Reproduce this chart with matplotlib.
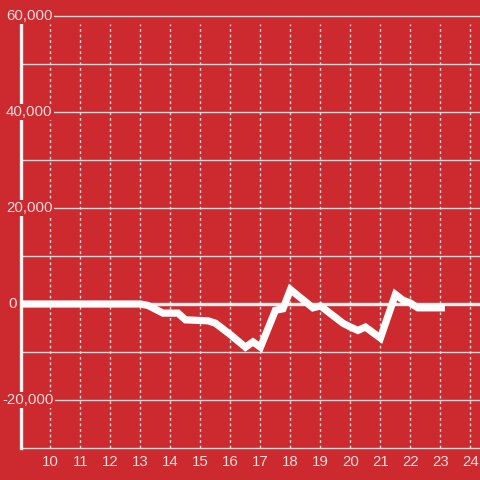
import numpy as np
import matplotlib
matplotlib.use('Agg')
import matplotlib.pyplot as plt
from matplotlib import rcParams

rcParams['font.family'] = ['Liberation Sans', 'DejaVu Sans']

# hour of day vs running value
hours = [9, 13.0, 13.25, 13.75, 14.25, 14.5, 15.25, 15.5, 16.0, 16.5, 16.75,
         17.0, 17.5, 17.75, 18.0, 18.75, 19.0, 19.75, 20.0, 20.25, 20.5,
         21.0, 21.5, 21.75, 22.0, 22.25, 23.15]
values = [0, 0, -300, -1900, -1900, -3300, -3500, -4000, -6400, -9000, -7900,
          -9000, -1300, -1000, 3000, -800, -400, -4000, -4800, -5500, -4800,
          -7100, 2000, 800, 200, -800, -800]

xticks = list(range(10, 25))
ylabel_vals = [60000, 40000, 20000, 0, -20000]
ygrid_vals = [60000, 50000, 40000, 30000, 20000, 10000, -10000, -20000]

bg = '#cc2a2f'
txt = '#f3dcdc'
grid_c = '#d8d8d8'

fig = plt.figure(figsize=(4.8, 4.8), dpi=100)
fig.patch.set_facecolor(bg)
ax = fig.add_axes([20.5 / 480, 32 / 480, 459.5 / 480, 424 / 480])
ax.set_facecolor(bg)
ax.set_xlim(9, 24.32)
ax.set_ylim(-30000, 58333)

for s in ['top', 'right']:
    ax.spines[s].set_visible(False)
ax.spines['left'].set_color('#f2f2f2')
ax.spines['left'].set_linewidth(2.4)
ax.spines['left'].set_zorder(3)
ax.spines['bottom'].set_color(grid_c)
ax.spines['bottom'].set_linewidth(1)

# vertical dotted grid
for h in xticks:
    ax.axvline(h, color=grid_c, lw=1, ls=(0, (2, 2)), zorder=1)
# horizontal grid
for v in ygrid_vals:
    ax.axhline(v, color=grid_c, lw=1, zorder=1, clip_on=False)
ax.axhline(0, color='#f2f2f2', lw=2.4, zorder=2)

ax.plot(hours, values, color='white', lw=5.2, solid_joinstyle='miter',
        solid_capstyle='butt', zorder=5)

ax.set_xticks(xticks)
ax.set_xticklabels([str(h) for h in xticks], color=txt, fontsize=10.8)
ax.tick_params(axis='x', length=0, pad=5)
ax.set_yticks([])

trans = ax.get_yaxis_transform()
for v in ylabel_vals:
    lab = '{:,}'.format(v)
    xpx = 2 if v < 0 else (8 if v == 0 else 6)
    xa = (xpx - 20.5) / 459.5
    if v == 0:
        ax.text(xa, v, lab, transform=trans, ha='left', va='center',
                color=txt, fontsize=10.8, clip_on=False, zorder=6)
    else:
        ax.text(xa, v, lab, transform=trans, ha='left', va='center',
                color=txt, fontsize=10.8, clip_on=False, zorder=6,
                bbox=dict(facecolor=bg, edgecolor='none', pad=1.0))

fig.savefig('out.png', dpi=100, facecolor=bg)
